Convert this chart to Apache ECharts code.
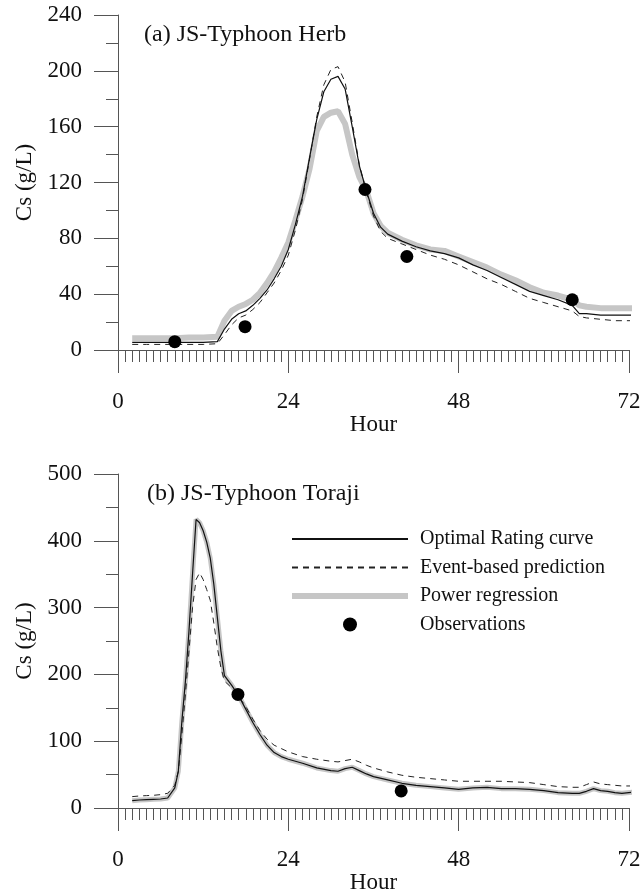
<!DOCTYPE html>
<html>
<head>
<meta charset="utf-8">
<script src="https://cdn.jsdelivr.net/npm/echarts@6/dist/echarts.min.js"></script>
<style>
  html, body { margin: 0; padding: 0; background: #fff; }
  #main { width: 644px; height: 896px; }
</style>
</head>
<body>
<div id="main"></div>
<script>
// (a) Typhoon Herb
var hoursA = [2, 4, 6, 8, 10, 12, 14, 15, 16, 17, 18, 19, 20, 21, 22, 23, 24, 25, 26, 27, 28, 29, 30, 31, 32, 33, 34, 35, 36, 37, 38,
  40, 42, 44, 46, 48, 50, 52, 54, 56, 58, 60, 62, 64, 65, 66, 68, 70, 73];
var optimalA = [5.5, 5.5, 5.5, 5.5, 5.5, 5.5, 6, 15, 22, 26, 28, 32, 37, 43, 51, 60, 72, 90, 110, 138, 165, 185, 194, 196, 187, 160, 132, 114, 98, 88, 83,
  78, 74, 71, 69, 66, 61, 57, 52, 47, 42, 39, 36, 32, 26, 26, 25, 25, 25];
var eventA = [4, 4, 4, 4, 4, 4, 4.5, 11, 18, 23, 25, 29, 34, 41, 48, 57, 68, 86, 108, 137, 167, 190, 201, 203, 192, 163, 133, 113, 96, 85, 80,
  76, 72, 68, 65, 61, 56, 51, 47, 42, 37, 34, 31, 28, 24, 23, 22, 21, 21];
var powerA = [8.5, 8.5, 8.5, 8.5, 9, 9, 9.5, 21, 28, 31, 33, 36, 41, 48, 56, 66, 77, 93, 110, 130, 157, 167, 170, 171, 162, 140, 124, 114, 98, 89, 84,
  79, 75, 72, 71, 67, 63, 59, 54, 50, 45, 41, 39, 36, 32, 31, 30, 30, 30];
var obsHourA = [8, 17.9, 34.8, 40.7, 64];
var obsValA = [6, 16.7, 115, 67, 36];

// (b) Typhoon Toraji
var hoursB = [2, 3, 4, 5, 6, 7, 8, 8.5, 9, 9.5, 10, 10.5, 11, 11.5, 12, 12.5, 13, 13.5, 14, 14.5, 15,
  16, 17, 18, 19, 20, 21, 22, 23, 24, 26, 28, 30, 31, 32, 33, 34, 35, 36,
  38, 40, 42, 44, 46, 48, 50, 52, 54, 56, 58, 60, 62, 64, 65, 66, 67, 68, 69, 70, 71, 73];
var optimalB = [11, 12, 12.5, 13, 13.5, 15, 30, 55, 130, 190, 265, 350, 432, 427, 415, 398, 374, 335, 285, 235, 198,
  184, 168, 148, 128, 110, 94, 83, 77, 73, 67, 60, 56, 55, 59, 61, 56, 51, 47,
  42, 37, 34, 32, 30, 28, 30, 31, 29, 29, 28, 26, 23, 22, 22, 25, 29, 26, 25, 23, 22, 24];
var eventB = [17, 18, 18.5, 19, 20, 22, 34, 55, 110, 170, 235, 300, 342, 352, 342, 327, 311, 277, 240, 210, 190,
  180, 167, 152, 133, 116, 103, 94, 89, 84, 77, 73, 70, 69, 71, 73, 69, 64, 60,
  54, 49, 46, 44, 42, 40, 40, 40, 40, 39, 38, 35, 32, 31, 31, 35, 39, 36, 35, 34, 33, 33];
var powerB = [11, 12, 12.5, 13, 13.5, 15, 30, 55, 130, 190, 265, 350, 432, 427, 415, 398, 374, 335, 285, 235, 198,
  184, 168, 148, 128, 110, 94, 83, 77, 73, 67, 60, 56, 55, 59, 61, 56, 51, 47,
  42, 37, 34, 32, 30, 28, 30, 31, 29, 29, 28, 26, 23, 22, 22, 25, 29, 26, 25, 23, 22, 24];
var obsHourB = [16.9, 39.9];
var obsValB = [170, 25.5];

var names = ['Optimal Rating curve', 'Event-based prediction', 'Power regression', 'Observations'];

var font = "'Liberation Serif', 'Times New Roman', serif";
var axisColor = '#555';
var powerColor = '#c6c6c6';

function zip(xs, ys) {
  return xs.map(function (x, i) { return [x, ys[i]]; });
}

function xAxisFor(gi) {
  return {
    type: 'value', gridIndex: gi, min: 0, max: 72, interval: 24,
    name: 'Hour', nameLocation: 'middle', nameGap: 54,
    nameTextStyle: { fontSize: 23, color: '#111', fontFamily: font },
    axisLine: { show: true, onZero: false, lineStyle: { color: axisColor, width: 1 } },
    axisTick: { show: true, inside: false, length: 23, lineStyle: { color: axisColor } },
    minorTick: { show: true, splitNumber: 24, length: 12, lineStyle: { color: axisColor } },
    splitLine: { show: false },
    axisLabel: { margin: 40, fontSize: 23, color: '#111', fontFamily: font }
  };
}

function yAxisFor(gi, max, interval) {
  return {
    type: 'value', gridIndex: gi, min: 0, max: max, interval: interval,
    name: 'Cs (g/L)', nameLocation: 'middle', nameGap: 79, nameRotate: 90,
    nameTextStyle: { fontSize: 23, color: '#111', fontFamily: font },
    axisLine: { show: true, onZero: false, lineStyle: { color: axisColor, width: 1 } },
    axisTick: { show: true, inside: false, length: 24, lineStyle: { color: axisColor } },
    minorTick: { show: true, splitNumber: 2, length: 12, lineStyle: { color: axisColor } },
    splitLine: { show: false },
    axisLabel: { margin: 36, fontSize: 23, color: '#111', fontFamily: font }
  };
}

function seriesFor(gi, hours, opt, evt, pow, obsH, obsV, powWidth) {
  return [{
    name: names[2], type: 'line', xAxisIndex: gi, yAxisIndex: gi, symbol: 'none', clip: false, z: 1,
    data: zip(hours, pow),
    itemStyle: { color: powerColor },
    lineStyle: { color: powerColor, width: powWidth }
  }, {
    name: names[0], type: 'line', xAxisIndex: gi, yAxisIndex: gi, symbol: 'none', clip: false, z: 3,
    data: zip(hours, opt),
    itemStyle: { color: '#111' },
    lineStyle: { color: '#111', width: 1.2 }
  }, {
    name: names[1], type: 'line', xAxisIndex: gi, yAxisIndex: gi, symbol: 'none', clip: false, z: 2,
    data: zip(hours, evt),
    itemStyle: { color: '#222' },
    lineStyle: { color: '#222', width: 1, type: [6, 5] }
  }, {
    name: names[3], type: 'scatter', xAxisIndex: gi, yAxisIndex: gi, symbolSize: 13, z: 5,
    data: zip(obsH, obsV),
    itemStyle: { color: '#000', opacity: 1 }
  }];
}

var myChart = echarts.init(document.getElementById('main'));

var option = {
  backgroundColor: '#fff',
  animation: false,
  title: [{
    text: '(a) JS-Typhoon Herb', left: 144, top: 23, padding: 0,
    textStyle: { fontSize: 24, fontWeight: 'normal', color: '#111', fontFamily: font }
  }, {
    text: '(b) JS-Typhoon Toraji', left: 147, top: 482, padding: 0,
    textStyle: { fontSize: 24, fontWeight: 'normal', color: '#111', fontFamily: font }
  }],
  legend: {
    data: [
      { name: names[0], itemStyle: { opacity: 0 } },
      { name: names[1], itemStyle: { opacity: 0 } },
      { name: names[2], itemStyle: { opacity: 0 }, lineStyle: { width: 6 } },
      { name: names[3] }
    ],
    orient: 'vertical', left: 289, top: 529, padding: 0,
    itemWidth: 116, itemHeight: 14, itemGap: 8.5, selectedMode: false,
    textStyle: { fontSize: 20, color: '#111', fontFamily: font, padding: [0, 0, 0, 7] }
  },
  grid: [
    { left: 118, top: 15, width: 511, height: 335 },
    { left: 118, top: 474, width: 511, height: 334 }
  ],
  xAxis: [xAxisFor(0), xAxisFor(1)],
  yAxis: [yAxisFor(0, 240, 40), yAxisFor(1, 500, 100)],
  series: seriesFor(0, hoursA, optimalA, eventA, powerA, obsHourA, obsValA, 6)
    .concat(seriesFor(1, hoursB, optimalB, eventB, powerB, obsHourB, obsValB, 5))
};

myChart.setOption(option);
</script>
</body>
</html>
